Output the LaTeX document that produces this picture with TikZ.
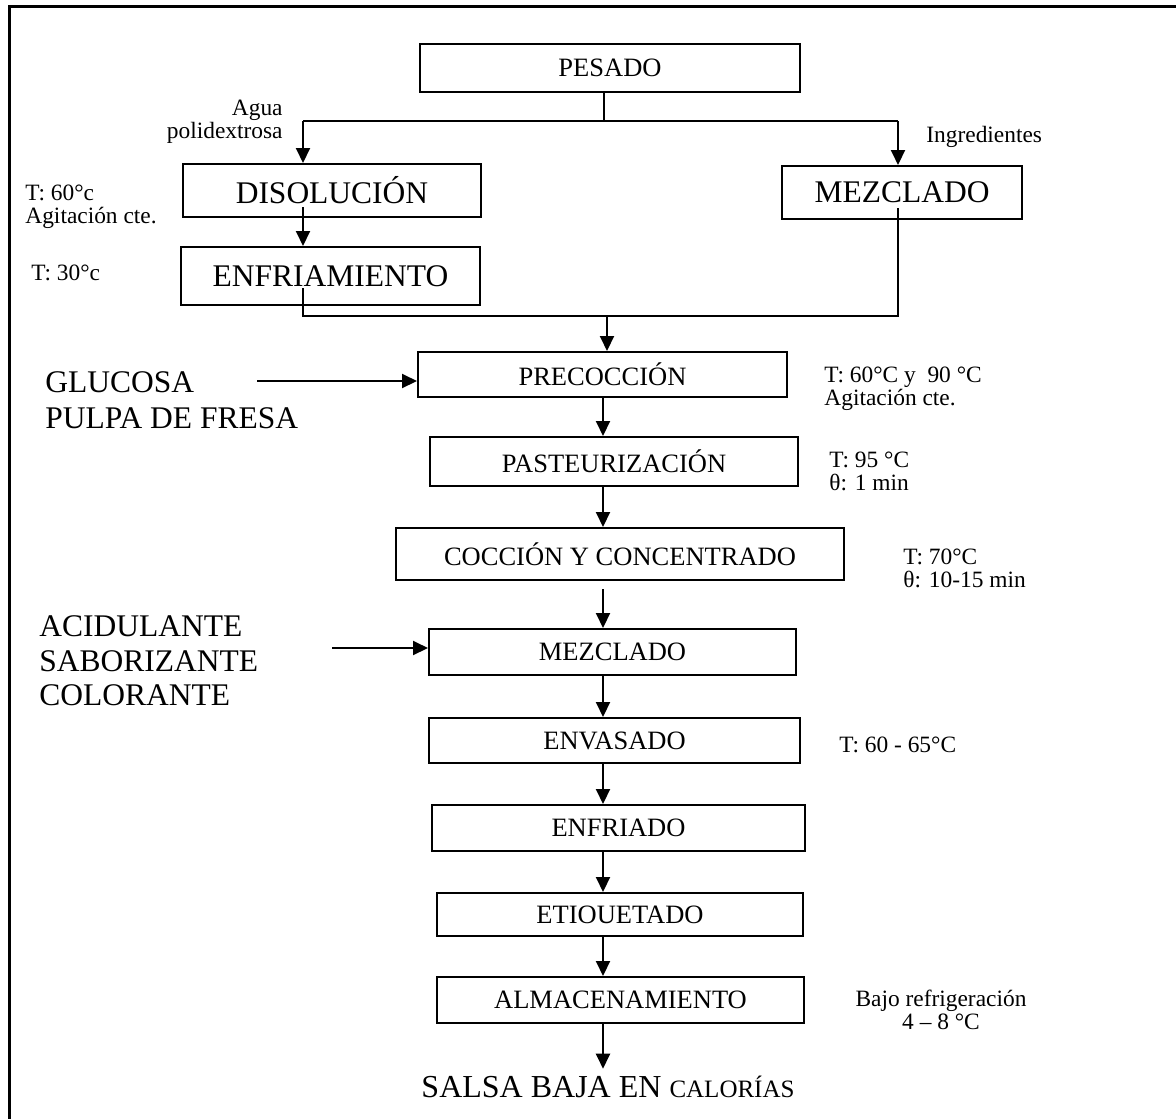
\documentclass[tikz,border=0pt]{standalone}
\usepackage{fontspec}
\setmainfont{Liberation Serif}
\usetikzlibrary{arrows.meta,positioning,calc}

\begin{document}
\begin{tikzpicture}[
  x=0.5pt, y=-0.5pt,
  proc/.style={draw, line width=1pt, inner sep=0pt, font=\fontsize{13.25}{15}\selectfont},
  big/.style={draw, line width=1pt, inner sep=0pt, font=\fontsize{15.75}{18}\selectfont},
  note/.style={inner sep=0pt, align=left, font=\fontsize{11.7}{11.6}\selectfont},
  feed/.style={inner sep=0pt, align=left, font=\fontsize{15.75}{18}\selectfont},
  arrow/.style={-{Triangle[length=7.5pt, width=7pt]}, line width=1pt},
  line/.style={line width=0.7pt}
]
\useasboundingbox (0,0) rectangle (1176,1119);
\draw[line width=1.5pt] (1176,6) -- (9,6) -- (9,1119);

\node[proc, minimum width=190pt, minimum height=24pt] (pesado) at (610,68) {PESADO};
\node[big, minimum width=149pt, minimum height=26.5pt] (disol) at (332,190.5) {DISOLUCIÓN};
\node[big, minimum width=149.5pt, minimum height=29pt] (enfr) at (330.5,276) {ENFRIAMIENTO};
\node[big, minimum width=120pt, minimum height=26.5pt] (mezcla) at (902,192.5) {MEZCLADO};
\node[proc, minimum width=184.5pt, minimum height=22.5pt] (preco) at (602.5,374.5) {PRECOCCIÓN};
\node[proc, minimum width=184pt, minimum height=24.5pt] (pasteur) at (614,461.5) {PASTEURIZACIÓN};
\node[proc, minimum width=224pt, minimum height=26pt] (cocc) at (620,554) {COCCIÓN Y CONCENTRADO};
\node[proc, minimum width=183.5pt, minimum height=23pt] (mez2) at (612.5,652) {MEZCLADO};
\node[proc, minimum width=185.5pt, minimum height=22.5pt] (envas) at (614.5,740.5) {ENVASADO};
\node[proc, minimum width=186.5pt, minimum height=23pt] (enfriado) at (618.5,828) {ENFRIADO};
\node[proc, minimum width=183pt, minimum height=21.5pt] (etiq) at (620,914.5) {ETIOUETADO};
\node[proc, minimum width=183.5pt, minimum height=23pt] (almac) at (620.5,1000) {ALMACENAMIENTO};
\node[inner sep=0pt, font=\fontsize{16}{18}\selectfont] (salsa) at (608,1087) {SALSA BAJA EN {\fontsize{12.5}{14}\selectfont CALORÍAS}};

\node[note, anchor=east, align=right] (agua) at (283,121.5) {Agua\\polidextrosa};
\node[note, anchor=west] (ingred) at (926,137) {Ingredientes};
\node[note, anchor=west] (t60) at (25,206.5) {T: 60°c\\Agitación cte.};
\node[note, anchor=west] (t30) at (31,273) {T: 30°c};
\node[note, anchor=west] (tpre) at (824,389) {T: 60°C y\ \ 90 °C\\Agitación cte.};
\node[note, anchor=west] (t95) at (829,471.5) {T: 95 °C\\θ: 1 min};
\node[note, anchor=west] (t70) at (903,568.5) {T: 70°C\\θ: 10-15 min};
\node[note, anchor=west] (t6065) at (839,745) {T: 60 - 65°C};
\node[note, align=center] (bajo) at (941,1010) {Bajo refrigeración\\4 – 8 °C};
\node[feed, anchor=west] (glucosa) at (45,400) {GLUCOSA\\PULPA DE FRESA};
\node[feed, anchor=west, font=\fontsize{15.75}{17.25}\selectfont] (aditivos) at (39,661) {ACIDULANTE\\SABORIZANTE\\COLORANTE};

\coordinate (split) at (604,121);
\coordinate (jl) at (303,121);
\coordinate (jr) at (898,121);
\coordinate (dl) at (303,207);
\coordinate (el) at (303,288);
\coordinate (mr) at (898,208);
\coordinate (bl) at (303,316);
\coordinate (br) at (898,316);
\coordinate (join) at (607,316);
\coordinate (ax) at (603,0);
\coordinate (g0) at (257,381);
\coordinate (a0) at (332,648);

\draw[line] (split |- pesado.south) -- (split);
\draw[line] (jl) -- (jr);
\draw[arrow] (jl) -- (jl |- disol.north);
\draw[arrow] (jr) -- (jr |- mezcla.north);
\draw[arrow] (dl) -- (dl |- enfr.north);
\draw[line] (el) -- (bl) -- (br) -- (mr);
\draw[arrow] (join) -- (join |- preco.north);
\foreach \a/\b in {preco/pasteur, pasteur/cocc, mez2/envas, envas/enfriado, enfriado/etiq, etiq/almac}
  \draw[arrow] (ax |- \a.south) -- (ax |- \b.north);
\draw[arrow] (ax |- almac.south) -- ($(ax |- salsa.north)+(0,-7)$);
\draw[arrow] ($(ax |- cocc.south)+(0,8)$) -- (ax |- mez2.north);
\draw[arrow] (g0) -- (g0 -| preco.west);
\draw[arrow] (a0) -- (a0 -| mez2.west);
\end{tikzpicture}
\end{document}
